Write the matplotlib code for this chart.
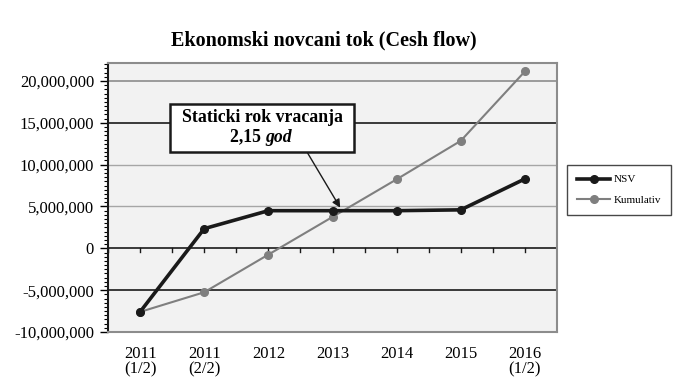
import matplotlib.pyplot as plt
from matplotlib.patches import Rectangle
from matplotlib.ticker import MultipleLocator, FuncFormatter

# cash flow series (values in dinars)
periods = ["2011\n(1/2)", "2011\n(2/2)", "2012", "2013", "2014", "2015", "2016\n(1/2)"]
nsv = [-7_600_000, 2_350_000, 4_500_000, 4_500_000, 4_500_000, 4_600_000, 8_300_000]
kumulativ = [-7_600_000, -5_250_000, -750_000, 3_750_000, 8_250_000, 12_850_000, 21_150_000]
y_ticks = [-10_000_000, -5_000_000, 0, 5_000_000, 10_000_000, 15_000_000, 20_000_000]

plt.rcParams['font.family'] = ['Liberation Serif', 'DejaVu Serif']

fig = plt.figure(figsize=(6.76, 3.78), dpi=100)
fig.patch.set_facecolor('white')
ax = fig.add_axes([108 / 676, 1 - 332 / 378, 449 / 676, 269 / 378])
ax.set_facecolor('#f2f2f2')

x = list(range(len(periods)))

# horizontal gridlines, mixed shades
grid_style = {20_000_000: ('#8c8c8c', 1.2), 15_000_000: ('#1a1a1a', 1.2),
              10_000_000: ('#a6a6a6', 1.0), 5_000_000: ('#a6a6a6', 1.0),
              -5_000_000: ('#1a1a1a', 1.2)}
for yv, (c, lw) in grid_style.items():
    ax.axhline(yv, color=c, lw=lw, zorder=1)
ax.axhline(0, color='#1a1a1a', lw=1.2, zorder=1)

# small ticks on the zero line
for xt in [i * 0.5 - 0.5 for i in range(15)]:
    ax.plot([xt, xt], [0, -400_000], color='#1a1a1a', lw=1.0, zorder=1)

ax.plot(x, kumulativ, color='#7f7f7f', lw=1.5, marker='o', ms=5.5,
        mfc='#7f7f7f', mec='#7f7f7f', label='Kumulativ', zorder=3)
ax.plot(x, nsv, color='#1a1a1a', lw=2.6, marker='o', ms=5.5,
        mfc='#1a1a1a', mec='#1a1a1a', label='NSV', zorder=4)

ax.set_xlim(-0.5, len(periods) - 0.5)
ax.set_ylim(-10_000_000, 22_150_000)
ax.set_yticks(y_ticks)
ax.yaxis.set_minor_locator(MultipleLocator(500_000))
ax.yaxis.set_major_formatter(FuncFormatter(lambda v, p: f"{int(v):,}"))
ax.tick_params(axis='y', which='major', length=6, width=1, labelsize=12, pad=4)
ax.tick_params(axis='y', which='minor', length=3, width=0.8)
ax.set_xticks(x)
ax.set_xticklabels(periods, linespacing=0.95)
ax.tick_params(axis='x', length=0, labelsize=12, pad=10)

for s in ax.spines.values():
    s.set_color('#8c8c8c')
    s.set_linewidth(1.5)
ax.spines['left'].set_color('#1a1a1a')

fig.text(324 / 676, 1 - 40 / 378, "Ekonomski novcani tok (Cesh flow)",
         ha='center', va='center', fontsize=14.5, fontweight='bold')

# payback period callout
box = Rectangle((170 / 676, 1 - 152 / 378), 184 / 676, 48 / 378,
                transform=fig.transFigure, facecolor='white',
                edgecolor='#1a1a1a', lw=1.8, zorder=5)
fig.add_artist(box)
fig.text(262 / 676, 1 - 118 / 378, "Staticki rok vracanja", ha='center',
         va='center', fontsize=12.8, fontweight='bold', zorder=6)
fig.text(265 / 676, 1 - 137 / 378, "2,15 ", ha='right', va='center',
         fontsize=12.8, fontweight='bold', zorder=6)
fig.text(265 / 676, 1 - 137 / 378, "god", ha='left', va='center',
         fontsize=12.8, fontweight='bold', style='italic', zorder=6)
ax.annotate("", xy=(3.12, 4_860_000), xytext=(307 / 676, 1 - 152 / 378),
            textcoords='figure fraction',
            arrowprops=dict(arrowstyle='-|>', color='#1a1a1a', lw=1.0,
                            mutation_scale=12, shrinkA=0, shrinkB=0),
            zorder=6)

handles, labels = ax.get_legend_handles_labels()
leg = fig.legend(handles[::-1], labels[::-1], loc='center',
                 bbox_to_anchor=(619 / 676, 1 - 190 / 378), fontsize=8,
                 frameon=True, fancybox=False, edgecolor='#1a1a1a',
                 handlelength=3.0, handletextpad=0.3, markerscale=1.0,
                 labelspacing=1.0, borderpad=0.9)
leg.get_frame().set_linewidth(1.0)

fig.savefig('out.png', dpi=100)
